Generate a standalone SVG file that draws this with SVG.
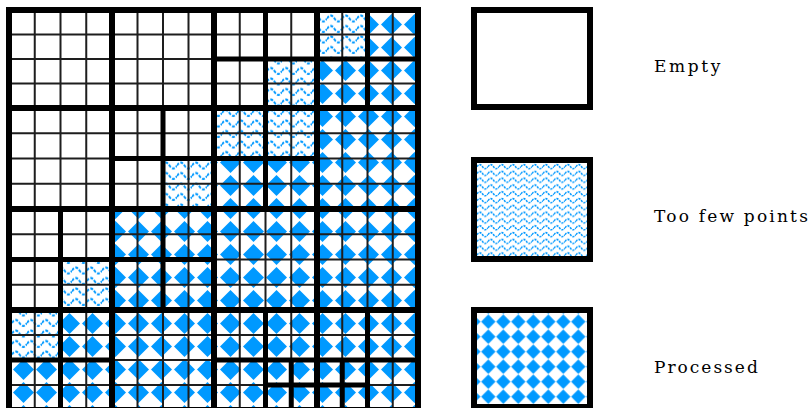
<svg xmlns="http://www.w3.org/2000/svg" width="811" height="408" viewBox="0 0 811 408">
<defs>
<pattern id="proc" patternUnits="userSpaceOnUse" x="12" y="13" width="23" height="23">
<rect width="23" height="23" fill="#fff"/>
<path d="M11.5 1L22 11.5L11.5 22L1 11.5Z" fill="#0099ff"/>
</pattern>
<pattern id="procL" patternUnits="userSpaceOnUse" x="480.8" y="314.2" width="15" height="15">
<rect width="15" height="15" fill="#fff"/>
<path d="M7.5 0.3L14.7 7.5L7.5 14.7L0.3 7.5Z" fill="#0099ff"/>
</pattern>
<pattern id="wave" patternUnits="userSpaceOnUse" x="12" y="13" width="15" height="10.5">
<rect width="15" height="10.5" fill="#fff"/>
<path d="M0 5.5C2.5 1.5 5 1.5 7.5 5.5C10 9.5 12.5 9.5 15 5.5" fill="none" stroke="#0099ff" stroke-width="2" stroke-dasharray="3 1.5"/>
</pattern>
<pattern id="waveL" patternUnits="userSpaceOnUse" x="477" y="163" width="11" height="6.8">
<rect width="11" height="6.8" fill="#fff"/>
<path d="M0 3.6C1.8 0.9 3.7 0.9 5.5 3.6C7.3 6.3 9.2 6.3 11 3.6" fill="none" stroke="#0099ff" stroke-width="1.5" stroke-dasharray="2.2 1"/>
</pattern>
</defs>
<style>
.thin{fill:none;stroke:#1e1e1e;stroke-width:2}
.blk{fill:none;stroke:#000;stroke-width:6}
.sub{fill:none;stroke:#000;stroke-width:5}
</style>
<rect width="811" height="408" fill="#fff"/>
<g id="grid">
<g id="fills-processed" fill="url(#proc)">
<rect x="367.5" y="10" width="50.5" height="49"/>
<rect x="317" y="59" width="101" height="150"/>
<rect x="214" y="158.5" width="103" height="50.5"/>
<rect x="112" y="209" width="306" height="101"/>
<rect x="60.5" y="310" width="357.5" height="50"/>
<rect x="9" y="360" width="409" height="50"/>
</g>
<g id="fills-few" fill="url(#wave)">
<rect x="265.5" y="59" width="51.5" height="49"/>
<rect x="317" y="10" width="50.5" height="49"/>
<rect x="214" y="108" width="103" height="50.5"/>
<rect x="163" y="158.5" width="51" height="50.5"/>
<rect x="60.5" y="259.5" width="51.5" height="50.5"/>
<rect x="9" y="310" width="51.5" height="50"/>
</g>
<path class="thin" d="M34.75 10V410M60.5 10V410M86.25 10V410M112 10V410M137.5 10V410M163 10V410M188.5 10V410M214 10V410M239.75 10V410M265.5 10V410M291.25 10V410M317 10V410M342.25 10V410M367.5 10V410M392.75 10V410M9 34.5H418M9 59H418M9 83.5H418M9 108H418M9 133.25H418M9 158.5H418M9 183.75H418M9 209H418M9 234.25H418M9 259.5H418M9 284.75H418M9 310H418M9 335H418M9 360H418M9 385H418"/>
<path class="sub" d="M214 59H418M265.5 10V209M163 108V310M112 158.5H317M60.5 209V410M9 259.5H214M9 360H112M214 360H418M367.5 10V108M367.5 310V410M265.5 310V410M291.25 360V410M342.25 360V410M265.5 385H367.5"/>
<path class="blk" d="M112 10V410M214 10V410M317 10V410M9 108H418M9 209H418M9 310H418"/>
<rect class="blk" x="9" y="10" width="409" height="400"/>
</g>
<g id="legend-empty">
<rect x="474" y="10" width="116" height="97" fill="#fff" stroke="#000" stroke-width="6"/>
<text x="654" y="72" font-family="'DejaVu Serif', serif" font-size="17" letter-spacing="2.6" fill="#000">Empty</text>
</g>
<g id="legend-few">
<rect x="474" y="160" width="116" height="99" fill="url(#waveL)" stroke="#000" stroke-width="6"/>
<text x="654" y="222" font-family="'DejaVu Serif', serif" font-size="17" letter-spacing="2.2" fill="#000">Too few points</text>
</g>
<g id="legend-processed">
<rect x="474" y="310" width="116" height="97" fill="url(#procL)" stroke="#000" stroke-width="6"/>
<text x="654" y="373" font-family="'DejaVu Serif', serif" font-size="17" letter-spacing="2" fill="#000">Processed</text>
</g>
</svg>
